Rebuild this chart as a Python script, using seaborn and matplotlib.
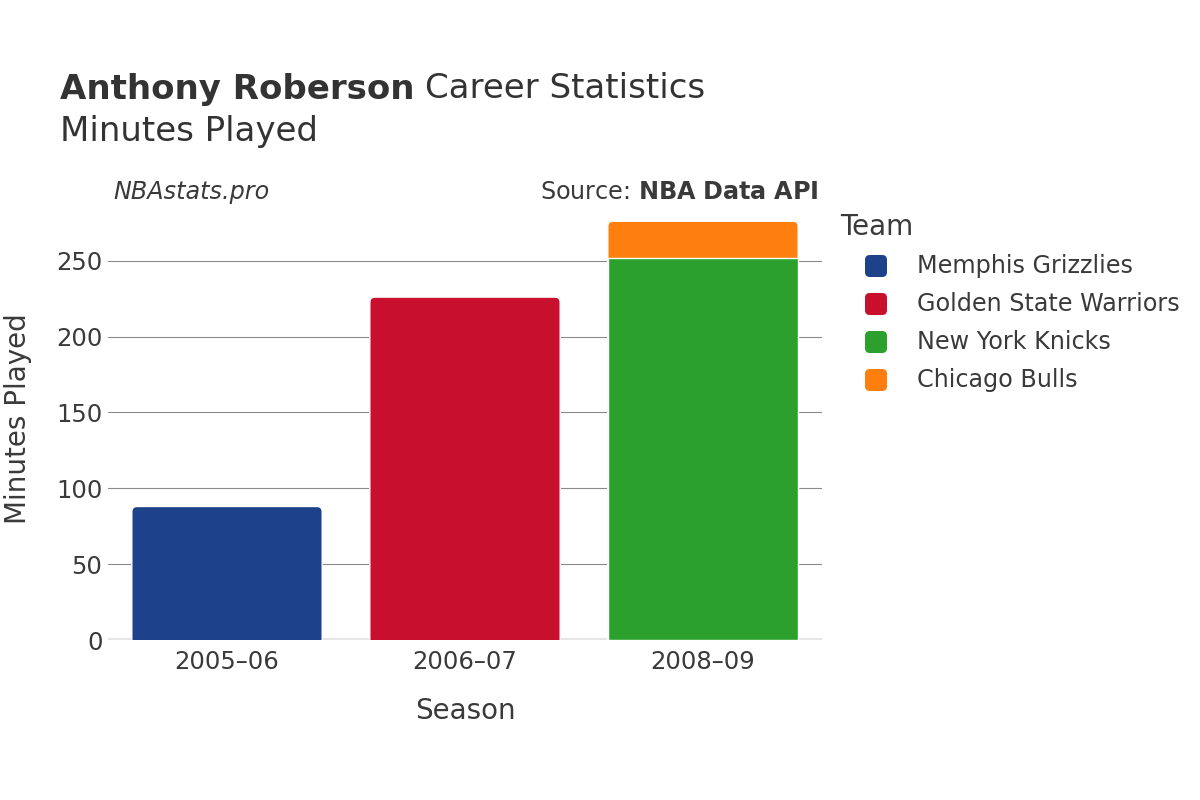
import matplotlib
matplotlib.use("Agg")
import matplotlib.pyplot as plt
import pandas as pd
import seaborn as sns
from matplotlib.patches import FancyBboxPatch

# datos
seasons = ["2005–06", "2006–07", "2008–09", "2008–09"]
teams = ["Memphis Grizzlies", "Golden State Warriors", "New York Knicks", "Chicago Bulls"]
minutes = [88, 226, 252, 24]
team_colors = ["#1d428a", "#c8102e", "#2ca02c", "#ff7f0e"]
season_order = ["2005–06", "2006–07", "2008–09"]

df = pd.DataFrame({"season": seasons, "team": teams, "minutes": minutes})
# apilado: altura acumulada por temporada
df["top"] = df.groupby("season")["minutes"].cumsum()
season_max = df.groupby("season")["top"].max()

sns.set_style("white")
plt.rcParams["font.family"] = ["DejaVu Sans"]
txt = "#3a3a3a"

fig = plt.figure(figsize=(12, 8), dpi=100)
ax = fig.add_axes([108 / 1200, 0.2, 714 / 1200, 0.55])

palette = dict(zip(teams, team_colors))
# el segmento superior se dibuja primero y el inferior lo tapa
draw_order = ["Memphis Grizzlies", "Golden State Warriors", "Chicago Bulls", "New York Knicks"]
sns.barplot(data=df, x="season", y="top", hue="team", hue_order=draw_order,
            order=season_order, palette=palette, dodge=False, width=0.8,
            edgecolor="white", linewidth=1, saturation=1, legend=False, ax=ax, zorder=3)

ax.set_ylim(0, 290)
ax.set_xlim(-0.5, 2.5)

# esquinas redondeadas en la parte superior de cada columna
aspect = (290 / 440) / (3 / 714)
for p in list(ax.patches):
    h = p.get_height()
    if h <= 0:
        continue
    idx = int(round(p.get_x() + p.get_width() / 2))
    if abs(h - season_max[season_order[idx]]) > 0.01:
        continue
    r = FancyBboxPatch((p.get_x(), -6), p.get_width(), h + 6,
                       boxstyle="round,pad=0,rounding_size=0.022", mutation_aspect=aspect,
                       facecolor=p.get_facecolor(), edgecolor="white", linewidth=1, zorder=2.5)
    p.remove()
    ax.add_patch(r)

ax.set_yticks([0, 50, 100, 150, 200, 250])
ax.yaxis.grid(True, color="#8a8a8a", linewidth=0.8, zorder=0)
ax.axhline(0, color="#e6e6e6", linewidth=3, zorder=2)
for s in ax.spines.values():
    s.set_visible(False)
ax.tick_params(axis="both", length=0, labelsize=17.5, labelcolor=txt)
ax.tick_params(axis="y", pad=4)
ax.tick_params(axis="x", pad=7)

ax.set_xlabel("Season", fontsize=20, color=txt)
ax.xaxis.label.set_va("center")
ax.xaxis.set_label_coords(0.5, (640 - 711) / 440)
ax.set_ylabel("Minutes Played", fontsize=20, color=txt)
ax.yaxis.label.set_va("center")
ax.yaxis.set_label_coords((18 - 108) / 714, (640 - 419) / 440)

# titulos
t = fig.text(60 / 1200, 1 - 89 / 800, "Anthony Roberson", fontsize=24.5, fontweight="bold",
             color="#333333", va="center", ha="left")
fig.canvas.draw()
bb = t.get_window_extent()
fig.text(bb.x1 / 1200 + 0.009, 1 - 89 / 800, "Career Statistics", fontsize=24.5,
         color="#333333", va="center", ha="left")
fig.text(60 / 1200, 1 - 132 / 800, "Minutes Played", fontsize=24.5, color="#333333",
         va="center", ha="left")

fig.text(113 / 1200, 1 - 192 / 800, "NBAstats.pro", fontsize=17.2, style="italic",
         color=txt, va="center", ha="left")
fig.text(818 / 1200, 1 - 192 / 800, r"Source: $\bf{NBA\ Data\ API}$", fontsize=17.2,
         color=txt, va="center", ha="right")

# leyenda
fig.text(840 / 1200, 1 - 227 / 800, "Team", fontsize=20, color=txt, va="center", ha="left")
for i, (name, col) in enumerate(zip(teams, team_colors)):
    yc = 266 + 38 * i
    box = FancyBboxPatch((865 / 1200, 1 - (yc + 11) / 800), 22 / 1200, 22 / 800,
                         boxstyle="round,pad=0,rounding_size=0.004", transform=fig.transFigure,
                         facecolor=col, edgecolor="none", mutation_aspect=1.5)
    fig.patches.append(box)
    fig.text(917 / 1200, 1 - yc / 800, name, fontsize=17.2, color=txt, va="center", ha="left")

fig.savefig("out.png", dpi=100)
